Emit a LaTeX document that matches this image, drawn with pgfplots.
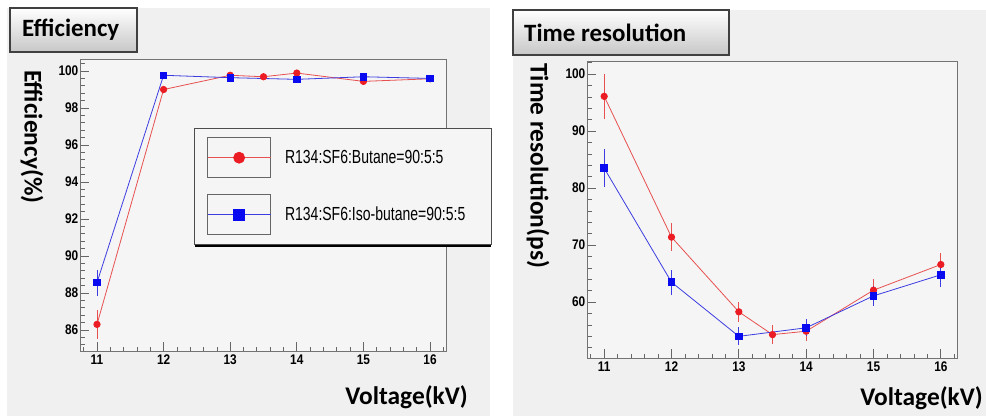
\documentclass[border=0pt]{standalone}
\usepackage{fontspec}
\setmainfont{Carlito}
\newfontfamily\tickfont[FakeStretch=0.85]{Liberation Sans}
\newfontfamily\legfont[FakeStretch=0.74]{Liberation Sans}
\usepackage{pgfplots}
\pgfplotsset{compat=1.18}
\definecolor{bgout}{RGB}{240,240,240}
\definecolor{bgin}{RGB}{245,245,245}
\definecolor{redL}{RGB}{232,80,80}
\definecolor{redM}{RGB}{236,28,36}
\definecolor{blueL}{RGB}{60,60,225}
\definecolor{blueM}{RGB}{10,10,240}
\newcommand{\labfont}{\bfseries\fontsize{25.5}{25.5}\selectfont}
\pgfplotsset{
  panel/.style={
    scale only axis,
    axis background/.style={fill=bgin},
    axis line style={black!55, line width=0.9bp},
    tick align=inside, tick pos=left,
    major tick length=9bp, minor tick length=4.5bp,
    every tick/.style={black!60, line width=0.7bp},
    xmin=10.745, xmax=16.24,
    xtick={11,12,13,14,15,16},
    minor xtick={10.8,11.0,...,16.2},
    ticklabel style={font=\tickfont\bfseries\fontsize{14}{14}\selectfont},
    yticklabel style={inner xsep=1.5bp},
    /pgf/number format/assume math mode=true,
    legend image code/.code={
      \draw[black!60, fill=bgin, line width=0.8bp] (0bp,-20bp) rectangle (63bp,20bp);
      \draw[mark repeat=2, mark phase=2, ##1, mark size=5.5bp] plot coordinates {(0bp,0bp) (31.5bp,0bp) (63bp,0bp)};
    },
  },
  redS/.style={color=redL, line width=0.8bp, mark=*, mark size=3.2bp,
    mark options={fill=redM, draw=redM, solid},
    error bars/.cd, y dir=both, y explicit, error mark=none,
    error bar style={redL, line width=0.8bp}},
  blueS/.style={color=blueL, line width=0.8bp, mark=square*, mark size=3.3bp,
    mark options={fill=blueM, draw=blueM, solid},
    error bars/.cd, y dir=both, y explicit, error mark=none,
    error bar style={blueL, line width=0.8bp}},
}
\begin{document}
\begin{tikzpicture}
\fill[white] (0bp,0bp) rectangle (986bp,-416bp);
\fill[bgout] (7bp,-8bp) rectangle (490bp,-416bp);
\fill[bgout] (513bp,-10bp) rectangle (986bp,-416bp);

% ---------- Efficiency ----------
\begin{axis}[panel,
  at={(80bp,-351bp)}, anchor=south west, width=366bp, height=292bp,
  ymin=84.86, ymax=100.65,
  ytick={86,88,90,92,94,96,98,100},
  minor ytick={85.2,85.6,...,100.4},
  every axis x label/.style={at={(rel axis cs:1,0)}, xshift=22bp, yshift=-46bp, anchor=east, inner sep=0pt, font=\labfont},
  every axis y label/.style={at={(rel axis cs:0,1)}, xshift=-48bp, yshift=-11bp, rotate=-90, anchor=west, inner sep=0pt, font=\labfont},
  xlabel={Voltage(kV)},
  ylabel={Efficiency(\%)},
  legend cell align=left,
  legend style={name=leg, at={(0.311,0.764)}, anchor=north west, draw=black!70, line width=0.8bp,
    fill=bgin, inner xsep=13bp, inner ysep=9bp, row sep=16bp, column sep=14bp,
    font=\legfont\fontsize{19}{19}\selectfont,
    nodes={inner sep=0pt, anchor=west},
    /tikz/every even column/.append style={text width=193bp}},
]
\addplot[redS] table[x=x, y=y, y error=e] {
x y e
11 86.3 0.77
12 99.0 0.15
13 99.77 0.1
13.5 99.69 0.1
14 99.89 0.1
15 99.44 0.1
16 99.58 0.1
};
\addlegendentry{R134:SF6:Butane=90:5:5}
\addplot[blueS] table[x=x, y=y, y error=e] {
x y e
11 88.56 0.7
12 99.77 0.15
13 99.64 0.1
14 99.55 0.1
15 99.69 0.1
16 99.6 0.1
};
\addlegendentry{R134:SF6:Iso-butane=90:5:5}
\end{axis}
\draw[black, line width=2.4bp] ([xshift=1bp,yshift=-1.6bp]leg.south west) -- ([yshift=-1.6bp]leg.south east);

% ---------- Time resolution ----------
\begin{axis}[panel,
  at={(587bp,-358bp)}, anchor=south west, width=370bp, height=297bp,
  ymin=50.2, ymax=102.3,
  ytick={60,70,80,90,100},
  minor ytick={52,54,...,102},
  every axis x label/.style={at={(rel axis cs:1,0)}, xshift=26bp, yshift=-40bp, anchor=east, inner sep=0pt, font=\labfont},
  every axis y label/.style={at={(rel axis cs:0,1)}, xshift=-49bp, yshift=-2bp, rotate=-90, anchor=west, inner sep=0pt, font=\labfont},
  xlabel={Voltage(kV)},
  ylabel={Time resolution(ps)},
]
\addplot[redS] table[x=x, y=y, y error=e] {
x y e
11 96.1 3.9
12 71.4 2.5
13 58.3 1.7
13.5 54.3 1.7
14 54.9 1.7
15 62.1 2.0
16 66.6 2.0
};
\addplot[blueS] table[x=x, y=y, y error=e] {
x y e
11 83.5 3.3
12 63.5 2.2
13 54.0 1.6
14 55.5 1.5
15 61.1 1.8
16 64.8 2.2
};
\end{axis}

% ---------- title boxes ----------
\shade[top color=white, bottom color=black!22, draw=black!75, line width=1.2bp] (10bp,-8bp) rectangle (137bp,-52bp);
\node[anchor=west, inner sep=0pt, font=\bfseries\fontsize{25}{25}\selectfont] at (22bp,-30bp) {Efficiency};
\shade[top color=white, bottom color=black!22, draw=black!75, line width=1.2bp] (513bp,-10bp) rectangle (729bp,-55bp);
\node[anchor=west, inner sep=0pt, font=\bfseries\fontsize{25}{25}\selectfont] at (524bp,-33bp) {Time resolution};

\pgfresetboundingbox
\useasboundingbox (0bp,0bp) rectangle (986bp,-416bp);
\end{tikzpicture}
\end{document}
